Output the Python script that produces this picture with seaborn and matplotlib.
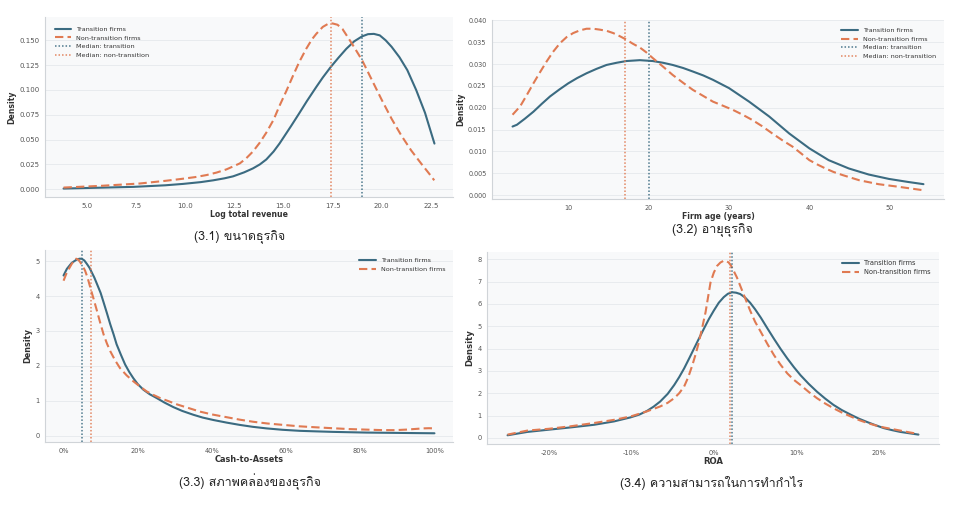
import numpy as np
import pandas as pd
import matplotlib
matplotlib.use("Agg")
import matplotlib.pyplot as plt
import seaborn as sns
from matplotlib import font_manager as fm
from matplotlib.ticker import PercentFormatter, MultipleLocator, FormatStrFormatter

# ---------------- data ----------------
# (3.1) Log total revenue
rev_x_t = [3.82, 5.5, 7.37, 9.0, 9.9, 10.8, 11.43, 12.0, 12.44, 13.0, 13.45, 13.8, 14.13, 14.5, 14.8, 15.0, 15.4, 15.82, 16.2, 16.67, 17.0, 17.4, 17.8, 18.2, 18.6, 19.0, 19.3, 19.6, 19.9, 20.2, 20.5, 20.9, 21.3, 21.75, 22.2, 22.68]
rev_y_t = [0.0007, 0.0015, 0.0024, 0.0040, 0.0054, 0.0072, 0.009, 0.011, 0.013, 0.017, 0.021, 0.025, 0.030, 0.038, 0.046, 0.052, 0.064, 0.077, 0.089, 0.103, 0.1125, 0.123, 0.1325, 0.1415, 0.149, 0.154, 0.1562, 0.1565, 0.155, 0.150, 0.1435, 0.133, 0.120, 0.100, 0.077, 0.046]
rev_x_n = [3.82, 5.68, 7.7, 9.0, 9.73, 10.5, 11.09, 11.6, 12.1, 12.78, 13.1, 13.45, 13.8, 14.13, 14.5, 14.8, 15.15, 15.48, 15.8, 16.16, 16.45, 16.67, 17.0, 17.26, 17.5, 17.75, 18.0, 18.28, 18.6, 19.0, 19.5, 20.0, 20.5, 21.0, 21.5, 22.0, 22.4, 22.67]
rev_y_n = [0.0017, 0.0034, 0.0058, 0.0085, 0.0102, 0.0122, 0.0143, 0.0168, 0.020, 0.026, 0.031, 0.038, 0.047, 0.057, 0.070, 0.084, 0.099, 0.114, 0.128, 0.1415, 0.151, 0.1565, 0.1635, 0.1665, 0.167, 0.1657, 0.1615, 0.153, 0.143, 0.130, 0.110, 0.090, 0.071, 0.054, 0.039, 0.026, 0.016, 0.009]
rev_med = [19.0, 17.4]

# (3.2) Firm age
age_x_t = [3.06, 3.6, 4.6, 5.66, 6.7, 7.73, 8.9, 10.0, 11.1, 12.27, 13.5, 14.75, 16.0, 17.23, 18.9, 20.5, 21.8, 23.0, 24.3, 25.5, 26.8, 28.0, 30.0, 32.5, 35.0, 37.5, 40.0, 42.4, 44.9, 47.4, 49.9, 52.3, 54.2]
age_y_t = [0.0157, 0.0161, 0.0175, 0.0191, 0.0209, 0.0226, 0.0242, 0.0256, 0.0268, 0.0279, 0.0289, 0.0298, 0.0303, 0.0307, 0.0309, 0.0307, 0.0303, 0.0298, 0.0291, 0.0283, 0.0274, 0.0264, 0.0245, 0.0214, 0.018, 0.0141, 0.0107, 0.0080, 0.0061, 0.0047, 0.0037, 0.0030, 0.0025]
age_x_n = [3.06, 4.0, 4.8, 5.66, 6.5, 7.3, 8.1, 8.97, 9.8, 10.6, 11.4, 12.27, 13.1, 13.9, 14.8, 15.6, 16.4, 17.23, 18.0, 18.9, 19.7, 20.5, 21.8, 23.0, 24.3, 25.5, 26.8, 28.0, 29.2, 30.5, 31.7, 32.9, 34.1, 35.4, 36.6, 37.9, 39.0, 40.0, 41.0, 42.0, 43.0, 44.1, 46.2, 48.6, 51.1, 54.2]
age_y_n = [0.0184, 0.0203, 0.0228, 0.0256, 0.0282, 0.0306, 0.0328, 0.0348, 0.0362, 0.0371, 0.0377, 0.0381, 0.0381, 0.0379, 0.0376, 0.0371, 0.0364, 0.0356, 0.0347, 0.0338, 0.0327, 0.0314, 0.0294, 0.0275, 0.0257, 0.0241, 0.0227, 0.0214, 0.0205, 0.0195, 0.0184, 0.0172, 0.0158, 0.0141, 0.0126, 0.0111, 0.0095, 0.0080, 0.0070, 0.0061, 0.0053, 0.0046, 0.0034, 0.0025, 0.0019, 0.0011]
age_med = [20.0, 17.0]

# (3.3) Cash-to-Assets
cash_x_t = [0.0, 0.009, 0.022, 0.036, 0.043, 0.049, 0.056, 0.063, 0.07, 0.076, 0.083, 0.09, 0.1, 0.108, 0.117, 0.126, 0.135, 0.143, 0.155, 0.166, 0.177, 0.188, 0.2, 0.215, 0.232, 0.251, 0.272, 0.296, 0.32, 0.35, 0.375, 0.404, 0.44, 0.475, 0.51, 0.547, 0.59, 0.637, 0.68, 0.726, 0.77, 0.816, 0.86, 0.906, 0.95, 1.0]
cash_y_t = [4.59, 4.78, 4.95, 5.05, 5.07, 5.07, 5.02, 4.92, 4.81, 4.68, 4.53, 4.35, 4.09, 3.82, 3.51, 3.19, 2.9, 2.62, 2.31, 2.04, 1.83, 1.65, 1.48, 1.32, 1.19, 1.08, 0.95, 0.82, 0.71, 0.60, 0.52, 0.45, 0.375, 0.31, 0.255, 0.21, 0.17, 0.14, 0.125, 0.11, 0.1, 0.09, 0.085, 0.08, 0.075, 0.07]
cash_x_n = [0.0, 0.009, 0.022, 0.028, 0.034, 0.04, 0.045, 0.051, 0.058, 0.065, 0.072, 0.081, 0.09, 0.099, 0.108, 0.117, 0.126, 0.139, 0.152, 0.17, 0.188, 0.206, 0.224, 0.242, 0.26, 0.283, 0.305, 0.335, 0.368, 0.4, 0.44, 0.475, 0.511, 0.55, 0.592, 0.635, 0.682, 0.725, 0.771, 0.815, 0.861, 0.895, 0.924, 0.95, 0.969, 0.985, 1.0]
cash_y_n = [4.44, 4.68, 4.92, 5.01, 5.07, 5.04, 4.97, 4.87, 4.73, 4.52, 4.25, 3.92, 3.58, 3.23, 2.9, 2.64, 2.42, 2.16, 1.94, 1.73, 1.56, 1.41, 1.27, 1.17, 1.08, 0.99, 0.90, 0.80, 0.69, 0.61, 0.53, 0.46, 0.40, 0.35, 0.31, 0.27, 0.24, 0.215, 0.19, 0.175, 0.16, 0.16, 0.175, 0.195, 0.21, 0.215, 0.21]
cash_med = [0.049, 0.074]

# (3.4) ROA
roa_x_t = [-0.25, -0.226, -0.2, -0.174, -0.145, -0.121, -0.101, -0.09, -0.081, -0.073, -0.065, -0.056, -0.048, -0.042, -0.036, -0.03, -0.024, -0.018, -0.012, -0.006, 0.0, 0.006, 0.012, 0.017, 0.022, 0.027, 0.032, 0.038, 0.044, 0.05, 0.057, 0.065, 0.073, 0.081, 0.089, 0.097, 0.105, 0.115, 0.125, 0.135, 0.145, 0.155, 0.166, 0.176, 0.186, 0.196, 0.206, 0.216, 0.226, 0.237, 0.248]
roa_y_t = [0.12, 0.27, 0.37, 0.47, 0.59, 0.74, 0.92, 1.05, 1.21, 1.4, 1.63, 1.97, 2.37, 2.72, 3.11, 3.55, 4.0, 4.45, 4.89, 5.32, 5.70, 6.05, 6.30, 6.45, 6.52, 6.5, 6.44, 6.28, 6.05, 5.76, 5.38, 4.9, 4.43, 3.98, 3.56, 3.17, 2.81, 2.42, 2.07, 1.76, 1.48, 1.25, 1.04, 0.86, 0.71, 0.57, 0.44, 0.35, 0.27, 0.21, 0.15]
roa_x_n = [-0.25, -0.226, -0.2, -0.174, -0.145, -0.121, -0.101, -0.081, -0.065, -0.056, -0.048, -0.042, -0.036, -0.031, -0.026, -0.022, -0.018, -0.014, -0.01, -0.007, -0.004, 0.0, 0.004, 0.008, 0.012, 0.015, 0.018, 0.021, 0.024, 0.028, 0.032, 0.038, 0.044, 0.05, 0.057, 0.065, 0.073, 0.081, 0.089, 0.097, 0.105, 0.115, 0.125, 0.135, 0.145, 0.155, 0.166, 0.176, 0.186, 0.196, 0.206, 0.216, 0.226, 0.237, 0.248]
roa_y_n = [0.15, 0.33, 0.41, 0.52, 0.67, 0.81, 0.96, 1.19, 1.41, 1.57, 1.78, 2.0, 2.30, 2.72, 3.26, 3.75, 4.30, 4.95, 5.63, 6.3, 6.96, 7.4, 7.70, 7.85, 7.93, 7.92, 7.85, 7.7, 7.48, 7.18, 6.81, 6.25, 5.70, 5.2, 4.74, 4.2, 3.70, 3.27, 2.89, 2.6, 2.37, 2.06, 1.78, 1.54, 1.33, 1.14, 0.96, 0.8, 0.67, 0.56, 0.47, 0.4, 0.33, 0.25, 0.18]
roa_med = [0.022, 0.019]

series_names = ["Transition firms", "Non-transition firms"]
median_names = ["Median: transition", "Median: non-transition"]
captions = ["(3.1) ขนาดธุรกิจ", "(3.2) อายุธุรกิจ", "(3.3) สภาพคล่องของธุรกิจ", "(3.4) ความสามารถในการทำกำไร"]
xlabels = ["Log total revenue", "Firm age (years)", "Cash-to-Assets", "ROA"]

# ---------------- style ----------------
sns.set_theme(style="white")
plt.rcParams["font.family"] = ["DejaVu Sans"]
plt.rcParams["axes.unicode_minus"] = False

# find a font with Thai glyphs
thai_font = None
try:
    from fontTools.ttLib import TTFont
    for f in fm.fontManager.ttflist:
        try:
            tt = TTFont(f.fname, fontNumber=0, lazy=True)
            cm = tt.getBestCmap()
            if cm and 0x0E02 in cm and 0x0E17 in cm:
                thai_font = f.name
                break
        except Exception:
            pass
except Exception:
    pass
cap_family = [thai_font, "DejaVu Sans"] if thai_font else ["DejaVu Sans"]

C_T = "#3b6b81"
C_N = "#e07a52"
BG = "#f8f9fa"

fig = plt.figure(figsize=(9.6, 5.07), dpi=100)
W, H = 960, 507

def px_axes(l, t, r, b):
    return fig.add_axes([l / W, 1 - b / H, (r - l) / W, (b - t) / H])

boxes = [(45, 17, 453, 197), (492, 20, 944, 199), (45, 250, 453, 442), (487, 252, 939, 444)]
cap_pos = [(240, 237), (712, 230), (250, 482), (712, 483)]
ylims = [(-0.0078, 0.1735), (-0.0009, 0.0401), None, None]
tick_fs = [5.0, 4.7, 4.8, 4.8]
label_fs = [5.6, 5.6, 5.9, 6.1]
leg_fs = [4.6, 4.6, 4.6, 4.8]
leg_pad = [1.1, 0.8, 0.8, 0.8]

datasets = [
    (rev_x_t, rev_y_t, rev_x_n, rev_y_n, rev_med),
    (age_x_t, age_y_t, age_x_n, age_y_n, age_med),
    (cash_x_t, cash_y_t, cash_x_n, cash_y_n, cash_med),
    (roa_x_t, roa_y_t, roa_x_n, roa_y_n, roa_med),
]

for i, (xt, yt, xn, yn, med) in enumerate(datasets):
    ax = px_axes(*boxes[i])
    ax.set_facecolor(BG)
    df_t = pd.DataFrame({"x": xt, "y": yt})
    df_n = pd.DataFrame({"x": xn, "y": yn})
    sns.lineplot(data=df_t, x="x", y="y", ax=ax, color=C_T, lw=1.5, estimator=None, sort=False,
                 label=series_names[0])
    sns.lineplot(data=df_n, x="x", y="y", ax=ax, color=C_N, lw=1.5, estimator=None, sort=False,
                 label=series_names[1])
    ax.lines[1].set_dashes([4, 2])
    show_med_legend = i < 2
    ax.axvline(med[0], color=C_T, ls=(0, (1, 1.3)), lw=1.1, alpha=0.9,
               label=median_names[0] if show_med_legend else "_nolegend_")
    ax.axvline(med[1], color=C_N, ls=(0, (1, 1.3)), lw=1.1, alpha=0.9,
               label=median_names[1] if show_med_legend else "_nolegend_")
    if ylims[i] is not None:
        ax.set_ylim(*ylims[i])

    ax.grid(axis="y", color="#e6e9ec", lw=0.6)
    ax.grid(axis="x", visible=False)
    for s in ["top", "right"]:
        ax.spines[s].set_visible(False)
    for s in ["left", "bottom"]:
        ax.spines[s].set_color("#d0d4d8")
        ax.spines[s].set_linewidth(0.8)
    ax.tick_params(axis="both", labelsize=tick_fs[i], colors="#555555", length=2, width=0.5, pad=2)
    ax.tick_params(axis="both", color="#cccccc")
    ax.set_xlabel(xlabels[i], fontsize=label_fs[i], fontweight="bold", color="#333333", labelpad=1)
    ax.set_ylabel("Density", fontsize=label_fs[i], fontweight="bold", color="#333333", labelpad=2)

    if i == 0:
        ax.yaxis.set_major_locator(MultipleLocator(0.025))
        ax.yaxis.set_major_formatter(FormatStrFormatter("%.3f"))
        ax.xaxis.set_major_locator(MultipleLocator(2.5))
        ax.xaxis.set_major_formatter(FormatStrFormatter("%.1f"))
        loc = "upper left"
    elif i == 1:
        ax.yaxis.set_major_locator(MultipleLocator(0.005))
        ax.yaxis.set_major_formatter(FormatStrFormatter("%.3f"))
        ax.xaxis.set_major_locator(MultipleLocator(10))
        loc = "upper right"
    elif i == 2:
        ax.xaxis.set_major_locator(MultipleLocator(0.2))
        ax.xaxis.set_major_formatter(PercentFormatter(1.0, decimals=0))
        ax.yaxis.set_major_locator(MultipleLocator(1))
        loc = "upper right"
    else:
        ax.xaxis.set_major_locator(MultipleLocator(0.1))
        ax.xaxis.set_major_formatter(PercentFormatter(1.0, decimals=0))
        ax.yaxis.set_major_locator(MultipleLocator(1))
        loc = "upper right"

    leg = ax.legend(loc=loc, fontsize=leg_fs[i], frameon=False, handlelength=2.6, labelspacing=0.5,
                    borderaxespad=leg_pad[i])
    for t in leg.get_texts():
        t.set_color("#333333")

    cx, cy = cap_pos[i]
    fig.text(cx / W, 1 - cy / H, captions[i], ha="center", va="center", fontsize=9,
             color="#222222", family=cap_family)

fig.savefig("out.png", dpi=100, facecolor="white")
